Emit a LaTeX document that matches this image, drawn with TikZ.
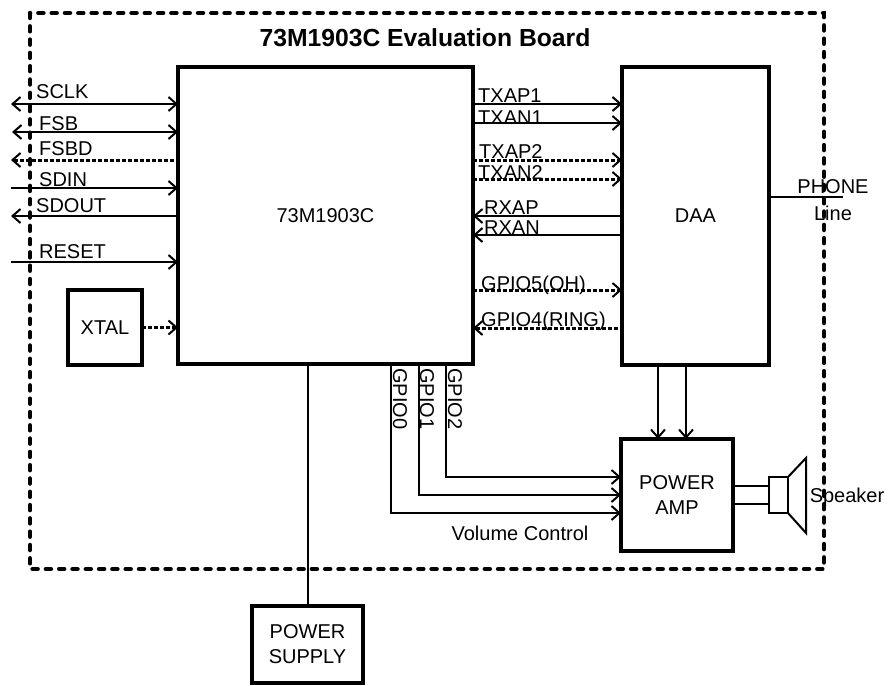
\documentclass[tikz,border=0pt]{standalone}
\usepackage{fontspec}
\setmainfont{Liberation Sans}
\usetikzlibrary{arrows.meta}
\tikzset{
  >={Straight Barb[length=8pt,width=14pt,line width=2pt]},
  blockbox/.style={draw, line width=4pt, outer sep=0pt, inner sep=0pt, align=center, font=\fontsize{20}{25}\selectfont},
  sigline/.style={line width=2pt},
  dotline/.style={line width=3pt, dash pattern=on 4pt off 2pt},
  siglabel/.style={anchor=base west, inner sep=0pt, font=\fontsize{20}{24}\selectfont},
  freelabel/.style={inner sep=0pt, font=\fontsize{20}{24}\selectfont},
  gpiolabel/.style={rotate=-90, inner sep=0pt, font=\fontsize{20}{24}\selectfont}
}

\begin{document}
\begin{tikzpicture}[x=1pt, y=-1pt]
    \useasboundingbox (0, 0) rectangle (888, 685);
    \coordinate (brdnw) at (30, 13);
    \coordinate (brdse) at (824, 569);
    \draw[line width=4.5pt, line cap=round, dash pattern=on 5pt off 8.3pt] (brdnw) rectangle (brdse);

    % blocks
    \node[blockbox, minimum width=295pt, minimum height=297pt] (codec) at (325.5, 215.5) {73M1903C};
    \node[blockbox, minimum width=147pt, minimum height=298pt] (daa) at (695.5, 216) {DAA};
    \node[blockbox, minimum width=74pt, minimum height=75pt] (xtal) at (105, 327.5) {XTAL};
    \node[blockbox, minimum width=112pt, minimum height=112pt] (amp) at (677, 495) {POWER\\AMP};
    \node[blockbox, minimum width=111pt, minimum height=77pt] (supply) at (307.5, 644.5) {POWER\\SUPPLY};
    \node[font=\bfseries\fontsize{24.7}{28}\selectfont, inner sep=0pt] (title) at (425, 38) {73M1903C Evaluation Board};

    % left side signals
    \coordinate (sclk) at (11, 104);
    \coordinate (fsb) at (12, 132);
    \coordinate (fsbd) at (11, 160);
    \coordinate (sdin) at (11, 188);
    \coordinate (sdout) at (11, 216);
    \coordinate (reset) at (11, 262);
    \draw[sigline, <->] (sclk) -- (sclk -| codec.west);
    \draw[sigline, <->] (fsb) -- (fsb -| codec.west);
    \draw[dotline, <-] (fsbd) -- (fsbd -| codec.west);
    \draw[sigline, ->] (sdin) -- (sdin -| codec.west);
    \draw[sigline, <-] (sdout) -- (sdout -| codec.west);
    \draw[sigline, ->] (reset) -- (reset -| codec.west);
    \coordinate (xtalout) at (xtal.east);
    \draw[dotline, ->] (xtal) -- (xtalout -| codec.west);

    % codec to daa
    \coordinate (txap1) at (473, 104);
    \coordinate (txan1) at (473, 123);
    \coordinate (txap2) at (473, 160);
    \coordinate (txan2) at (473, 179);
    \coordinate (rxap) at (473, 216);
    \coordinate (rxan) at (473, 235);
    \coordinate (gpio5) at (473, 290);
    \coordinate (gpio4) at (473, 328);
    \draw[sigline, ->] (txap1) -- (txap1 -| daa.west);
    \draw[sigline, ->] (txan1) -- (txan1 -| daa.west);
    \draw[dotline, ->] (txap2) -- (txap2 -| daa.west);
    \draw[dotline, ->] (txan2) -- (txan2 -| daa.west);
    \draw[sigline, <-] (rxap) -- (rxap -| daa.west);
    \draw[sigline, <-] (rxan) -- (rxan -| daa.west);
    \draw[dotline, ->] (gpio5) -- (gpio5 -| daa.west);
    \draw[dotline, <-] (gpio4) -- (gpio4 -| daa.west);

    % phone line
    \coordinate (phone) at (843, 197);
    \draw[sigline] (phone -| daa.east) -- (phone);

    % daa to amp
    \coordinate (auda) at (658, 365);
    \coordinate (audb) at (686, 365);
    \draw[sigline, ->] (auda) -- (auda |- amp.north);
    \draw[sigline, ->] (audb) -- (audb |- amp.north);

    % volume control
    \coordinate (gpio2) at (446, 364);
    \coordinate (gpio1) at (419, 364);
    \coordinate (gpio0) at (391, 364);
    \draw[sigline, ->] (gpio2) |- (amp.west |- 0, 477);
    \draw[sigline, ->] (gpio1) |- (amp.west |- 0, 495);
    \draw[sigline, ->] (gpio0) |- (amp.west |- 0, 513);

    % power
    \coordinate (pwrtap) at (308, 364);
    \draw[sigline] (pwrtap) -- (pwrtap |- supply.north);

    % speaker
    \node[draw, line width=2pt, outer sep=0pt, inner sep=0pt, minimum width=19pt, minimum height=36pt] (spkbox) at (778.5, 495) {};
    \coordinate (spkfarn) at (806, 458);
    \coordinate (spkfars) at (806, 533);
    \draw[line width=2pt, line join=miter] (spkbox.north east) -- (spkfarn) -- (spkfars) -- (spkbox.south east);
    \draw[sigline] (amp.east |- 0, 486) -- (spkbox.west |- 0, 486);
    \draw[sigline] (amp.east |- 0, 504) -- (spkbox.west |- 0, 504);

    % labels
    \node[siglabel] (sclklbl) at (36, 98) {SCLK};
    \node[siglabel] (fsblbl) at (39, 130) {FSB};
    \node[siglabel] (fsbdlbl) at (39, 155) {FSBD};
    \node[siglabel] (sdinlbl) at (39, 186) {SDIN};
    \node[siglabel] (sdoutlbl) at (36, 212) {SDOUT};
    \node[siglabel] (resetlbl) at (39, 258) {RESET};

    \node[siglabel] (txap1lbl) at (478, 102) {TXAP1};
    \node[siglabel] (txan1lbl) at (478, 124) {TXAN1};
    \node[siglabel] (txap2lbl) at (479, 158) {TXAP2};
    \node[siglabel] (txan2lbl) at (478, 179) {TXAN2};
    \node[siglabel] (rxaplbl) at (484, 214) {RXAP};
    \node[siglabel] (rxanlbl) at (484, 234) {RXAN};
    \node[siglabel] (gpio5lbl) at (481, 290) {GPIO5(OH)};
    \node[siglabel] (gpio4lbl) at (481, 326) {GPIO4(RING)};

    \node[freelabel] (phonelbl) at (833, 187) {PHONE};
    \node[freelabel] (linelbl) at (833, 213) {Line};
    \node[freelabel] (spklbl) at (847, 497) {Speaker};
    \node[freelabel] (vollbl) at (520, 533) {Volume Control};

    \node[gpiolabel] (gpio0lbl) at (400, 399) {GPIO0};
    \node[gpiolabel] (gpio1lbl) at (427, 399) {GPIO1};
    \node[gpiolabel] (gpio2lbl) at (455, 399) {GPIO2};
\end{tikzpicture}
\end{document}
